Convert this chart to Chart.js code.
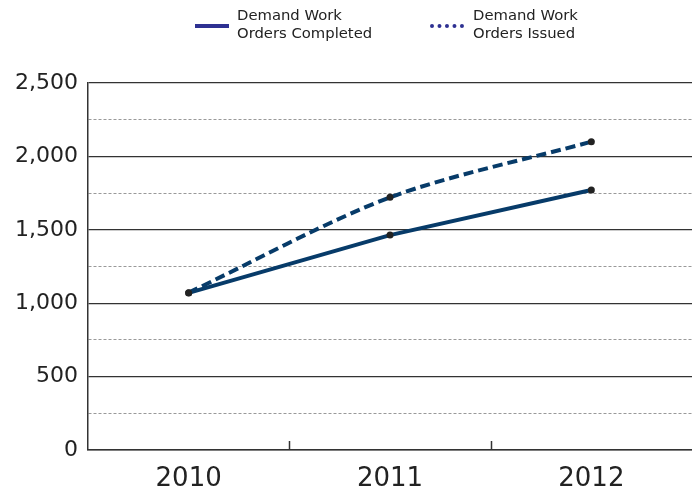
<!DOCTYPE html>
<html>
<head>
<meta charset="utf-8">
<script src="https://cdn.jsdelivr.net/npm/chart.js@4"></script>
<style>
  body { margin: 0; background: #fff; font-family: "DejaVu Sans", Verdana, sans-serif; }
  #wrap { position: relative; width: 692px; height: 494px; }
  .legend-item { position: absolute; top: 6px; font-size: 14.8px; line-height: 18px; color: #222; }
  .legend-item .sample { position: absolute; top: 18px; width: 34px; height: 0; }
  .legend-item .txt { position: absolute; white-space: nowrap; }
</style>
</head>
<body>
<div id="wrap">
  <canvas id="chart" width="692" height="494"></canvas>
  <div class="legend-item" style="left:195px">
    <div class="sample" style="border-top:4px solid #2e3192"></div>
    <div class="txt" style="left:42px">Demand Work<br>Orders Completed</div>
  </div>
  <div class="legend-item" style="left:430px">
    <div class="sample" style="border-top:4px dotted #2e3192"></div>
    <div class="txt" style="left:43px">Demand Work<br>Orders Issued</div>
  </div>
</div>
<script>
// values
const years = ["2010", "2011", "2012"];
const completed = [1070, 1464, 1771];
const issued = [1072, 1721, 2100];
const yTicks = [0, 500, 1000, 1500, 2000, 2500];

const lineColor = "#073b69";

// small upward tick marks between the year categories
const boundaryTicks = {
  id: "boundaryTicks",
  afterDraw(chart) {
    const x = chart.scales.x;
    const bottom = chart.chartArea.bottom;
    const ctx = chart.ctx;
    ctx.save();
    ctx.strokeStyle = "#333";
    ctx.lineWidth = 1.5;
    for (let i = 1; i < years.length; i++) {
      const px = Math.round((x.getPixelForValue(i - 1) + x.getPixelForValue(i)) / 2) + 0.5;
      ctx.beginPath();
      ctx.moveTo(px, bottom - 9);
      ctx.lineTo(px, bottom);
      ctx.stroke();
    }
    ctx.restore();
  }
};

new Chart(document.getElementById("chart"), {
  type: "line",
  data: {
    labels: years,
    datasets: [
      {
        label: "Demand Work Orders Completed",
        data: completed,
        borderColor: lineColor,
        borderWidth: 4,
        tension: 0,
        pointRadius: 3.5,
        pointBackgroundColor: "#222",
        pointBorderWidth: 0
      },
      {
        label: "Demand Work Orders Issued",
        data: issued,
        borderColor: lineColor,
        borderWidth: 4,
        borderDash: [10, 5],
        tension: 0.3,
        pointRadius: 3.5,
        pointBackgroundColor: "#222",
        pointBorderWidth: 0
      }
    ]
  },
  options: {
    responsive: false,
    animation: false,
    layout: { autoPadding: false, padding: { top: 83, right: 0, bottom: 0, left: 0 } },
    plugins: { legend: { display: false }, tooltip: { enabled: false } },
    scales: {
      x: {
        offset: true,
        afterFit(scale) { scale.height = 44; },
        grid: { display: false, drawTicks: false },
        border: { display: true, color: "#333", width: 1.5 },
        ticks: {
          padding: 14,
          maxRotation: 0,
          color: "#222",
          font: { family: "DejaVu Sans", size: 26 }
        }
      },
      y: {
        min: 0,
        max: 2500,
        afterFit(scale) { scale.width = 88; },
        grid: {
          drawTicks: false,
          color: ctx => (ctx.tick && ctx.tick.value % 500 === 0 ? "#333" : "#999"),
          lineWidth: ctx => (ctx.tick && ctx.tick.value % 500 === 0 ? 1.2 : 1)
        },
        border: {
          display: true,
          color: "#333",
          width: 1.5,
          dash: ctx => (ctx.tick && ctx.tick.value % 500 !== 0 ? [3, 2] : [])
        },
        ticks: {
          stepSize: 250,
          padding: 10,
          color: "#222",
          font: { family: "DejaVu Sans", size: 22 },
          callback: v => (yTicks.includes(v) ? v.toLocaleString("en-US") : "")
        }
      }
    }
  },
  plugins: [boundaryTicks]
});
</script>
</body>
</html>
